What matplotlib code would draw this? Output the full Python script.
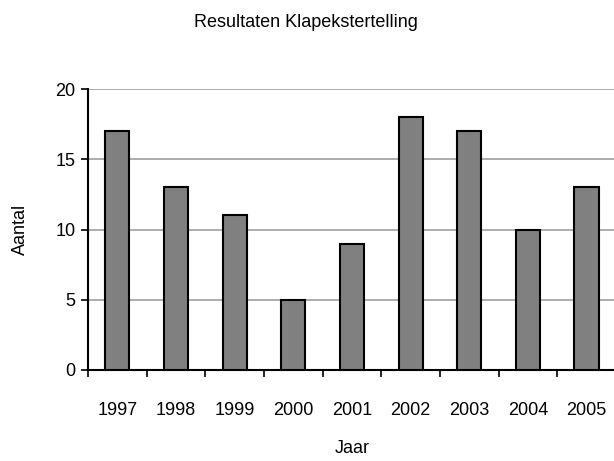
import matplotlib
matplotlib.use("Agg")
import matplotlib.pyplot as plt
import numpy as np

years = ["1997", "1998", "1999", "2000", "2001", "2002", "2003", "2004", "2005"]
counts = [17, 13, 11, 5, 9, 18, 17, 10, 13]
yticks = [0, 5, 10, 15, 20]

plt.rcParams['font.family'] = ['Liberation Sans', 'DejaVu Sans']

fig = plt.figure(figsize=(6.14, 4.61), dpi=100)
ax = fig.add_axes([0.1433, 0.1974, 0.8597, 0.6095])

x = np.arange(len(years))
ax.bar(x, counts, width=0.41, color='#808080', edgecolor='black', linewidth=1.5, zorder=3)

ax.set_xlim(-0.5, len(years) - 0.5)
ax.set_ylim(0, 20)
ax.set_yticks(yticks)
ax.yaxis.grid(True, color='#a0a0a0', linewidth=1.2, zorder=0)
ax.set_axisbelow(True)

ax.set_xticks(x)
ax.set_xticklabels(years, fontsize=13)
ax.set_xticks(np.arange(len(years) + 1) - 0.5, minor=True)
ax.tick_params(axis='x', which='major', length=0, pad=23)
ax.tick_params(axis='x', which='minor', length=5, width=1.2, direction='out', color='black')
ax.tick_params(axis='y', length=5, width=1.2, direction='out', labelsize=13, pad=4)

for s in ['top', 'right']:
    ax.spines[s].set_visible(False)
for s in ['left', 'bottom']:
    ax.spines[s].set_linewidth(1.5)
    ax.spines[s].set_color('black')

ax.set_ylabel("Aantal", fontsize=13, labelpad=19)
ax.set_xlabel("Jaar", fontsize=13, labelpad=15)

fig.text(0.499, 0.951, "Resultaten Klapekstertelling", ha='center', va='center', fontsize=13)

fig.savefig("out.png", dpi=100, facecolor='white')
